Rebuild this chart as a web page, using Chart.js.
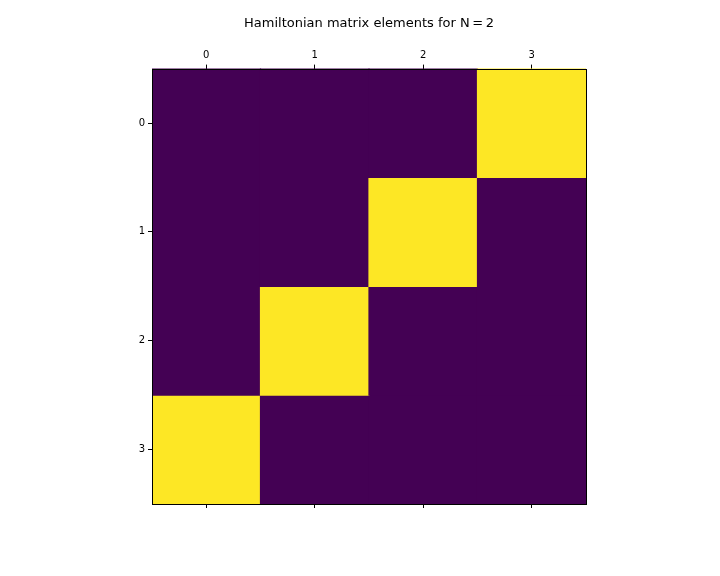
<!DOCTYPE html>
<html>
<head>
<meta charset="utf-8">
<script src="https://cdn.jsdelivr.net/npm/chart.js@4.4.0/dist/chart.umd.min.js"></script>
<style>
  html, body { margin: 0; padding: 0; background: #fff; }
  #wrap { width: 720px; height: 576px; }
</style>
</head>
<body>
<div id="wrap"><canvas id="hamChart" width="720" height="576"></canvas></div>
<script>
// Matrix data
const colLabels = ["0", "1", "2", "3"];
const rowLabels = ["0", "1", "2", "3"];
const hamiltonian = [
  [0, 0, 0, 1],
  [0, 0, 1, 0],
  [0, 1, 0, 0],
  [1, 0, 0, 0],
];

// viridis endpoints
const lowColor = "#440154";
const highColor = "#fde725";

function cellColor(v) {
  return v > 0.5 ? highColor : lowColor;
}

// one floating-bar dataset per matrix row
const datasets = hamiltonian.map((row, i) => ({
  label: "row " + rowLabels[i],
  data: row.map(() => [i - 0.5, i + 0.5]),
  backgroundColor: row.map(cellColor),
  borderWidth: 0,
  inflateAmount: 0.6,
  barPercentage: 1,
  categoryPercentage: 1,
  grouped: false,
}));

// frame around the image
const frame = {
  id: "frame",
  afterDatasetsDraw(chart) {
    const a = chart.chartArea;
    const ctx = chart.ctx;
    ctx.save();
    ctx.strokeStyle = "#000";
    ctx.lineWidth = 1;
    ctx.strokeRect(Math.round(a.left) + 0.5, Math.round(a.top) + 0.5,
      Math.round(a.right - a.left), Math.round(a.bottom - a.top));
    ctx.restore();
  },
};

const tickFont = { family: "DejaVu Sans", size: 10 };

new Chart(document.getElementById("hamChart").getContext("2d"), {
  type: "bar",
  data: { labels: colLabels, datasets: datasets },
  plugins: [frame],
  options: {
    responsive: false,
    animation: false,
    layout: { padding: { left: 122, right: 134, top: 0, bottom: 62 } },
    plugins: {
      legend: { display: false },
      tooltip: { enabled: false },
      title: {
        display: true,
        fullSize: false,
        text: "Hamiltonian matrix elements for N\u2009=\u20092",
        color: "#000",
        font: { family: "DejaVu Sans", size: 13, weight: "normal" },
        padding: { top: 16, bottom: 10 },
      },
    },
    scales: {
      x: {
        type: "category",
        position: "top",
        offset: true,
        grid: { offset: false, drawOnChartArea: false, color: "#000", tickLength: 4 },
        border: { display: false },
        ticks: { color: "#000", font: tickFont, padding: 3, maxRotation: 0 },
        afterFit(scale) { scale.height = 27; },
      },
      x2: {
        type: "category",
        labels: colLabels,
        position: "bottom",
        offset: true,
        grid: { offset: false, drawOnChartArea: false, color: "#000", tickLength: 4 },
        border: { display: false },
        ticks: { display: false },
        afterFit(scale) { scale.height = 10; },
      },
      y: {
        type: "linear",
        reverse: true,
        min: -0.5,
        max: 3.5,
        grid: { drawOnChartArea: false, color: "#000", tickLength: 4 },
        border: { display: false },
        afterBuildTicks(scale) {
          scale.ticks = rowLabels.map((_, i) => ({ value: i }));
        },
        ticks: {
          color: "#000",
          font: tickFont,
          padding: 3,
          callback: (v) => rowLabels[v],
        },
        afterFit(scale) { scale.width = 30; },
      },
    },
  },
});
</script>
</body>
</html>
